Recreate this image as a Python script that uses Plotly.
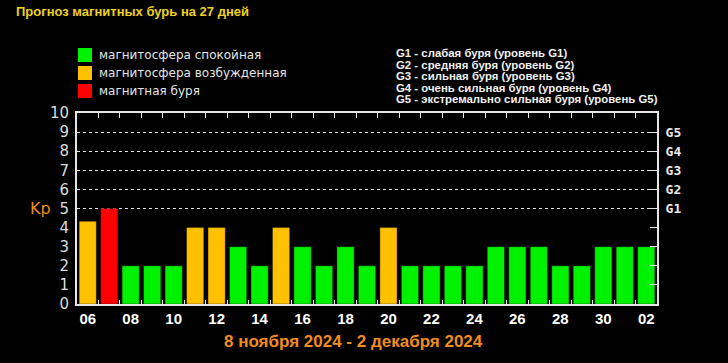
import plotly.graph_objects as go

# ---- data ----
day_labels = ["06", "07", "08", "09", "10", "11", "12", "13", "14", "15", "16", "17", "18",
              "19", "20", "21", "22", "23", "24", "25", "26", "27", "28", "29", "30", "01", "02"]
kp_values = [4.33, 5, 2, 2, 2, 4, 4, 3, 2, 4, 3, 2, 3, 2, 4, 2, 2, 2, 2, 3, 3, 3, 2, 2, 3, 3, 3]
g_levels = ["G1", "G2", "G3", "G4", "G5"]
g_level_kp = [5, 6, 7, 8, 9]
legend_labels = ["магнитосфера спокойная", "магнитосфера возбужденная", "магнитная буря"]
legend_colors = ["#00f200", "#ffc000", "#ff0000"]
g_descriptions = [
    "G1 - слабая буря (уровень G1)",
    "G2 - средняя буря (уровень G2)",
    "G3 - сильная буря (уровень G3)",
    "G4 - очень сильная буря (уровень G4)",
    "G5 - экстремально сильная буря (уровень G5)",
]
title_text = "Прогноз магнитных бурь на 27 дней"
period_text = "8 ноября 2024 - 2 декабря 2024"

# ---- layout geometry ----
W, H = 728, 363
L, R, T, B = 77, 657, 113, 304


def px(x):
    return (x - L) / (R - L)


def py(y):
    return (B - y) / (B - T)


def kp_color(v):
    if v >= 5:
        return legend_colors[2]
    if v >= 4:
        return legend_colors[1]
    return legend_colors[0]


n = len(day_labels)
xs = list(range(n))
colors = [kp_color(v) for v in kp_values]
boundaries = [i + 0.5 for i in range(n - 1)]
frame = "#e6e6e6"

fig = go.Figure()
fig.add_trace(go.Bar(x=xs, y=kp_values, marker=dict(color=colors, line=dict(color="rgba(0,0,0,0.35)", width=1)),
                     showlegend=False, hoverinfo="skip"))
# invisible helper traces to activate overlay axes
fig.add_trace(go.Scatter(x=[None], y=[None], xaxis="x2", yaxis="y", showlegend=False, hoverinfo="skip"))
fig.add_trace(go.Scatter(x=[None], y=[None], xaxis="x3", yaxis="y", showlegend=False, hoverinfo="skip"))
fig.add_trace(go.Scatter(x=[None], y=[None], xaxis="x", yaxis="y2", showlegend=False, hoverinfo="skip"))
fig.add_trace(go.Scatter(x=[None], y=[None], xaxis="x", yaxis="y3", showlegend=False, hoverinfo="skip"))

xr = [-0.5, n - 0.5]
fig.update_layout(
    width=W, height=H,
    margin=dict(l=L, r=W - R, t=T, b=H - B, pad=0),
    paper_bgcolor="black", plot_bgcolor="black",
    bargap=0.2,
    xaxis=dict(range=xr, tickmode="array", tickvals=xs[::2], ticktext=["<b>" + d + "</b>" for d in day_labels[::2]],
               ticks="", showgrid=False, zeroline=False, showline=True, linecolor=frame, linewidth=2,
               tickfont=dict(family="Liberation Sans", size=15, color="white"), ticklabelstandoff=0),
    xaxis2=dict(range=xr, overlaying="x", side="top", anchor="y", tickmode="array", tickvals=boundaries,
                ticks="inside", ticklen=5, tickcolor=frame, tickwidth=1, showticklabels=False,
                showgrid=False, zeroline=False, showline=True, linecolor=frame, linewidth=2),
    xaxis3=dict(range=xr, overlaying="x", side="bottom", anchor="y", tickmode="array", tickvals=boundaries,
                ticks="inside", ticklen=4, tickcolor=frame, tickwidth=1, showticklabels=False,
                showgrid=False, zeroline=False, showline=False),
    yaxis=dict(range=[0, 10], tickmode="array", tickvals=list(range(11)), ticks="", showgrid=False,
               zeroline=False, showline=True, linecolor=frame, linewidth=2,
               tickfont=dict(family="DejaVu Sans", size=15, color="#dcdcdc"), ticklabelstandoff=3),
    yaxis2=dict(range=[0, 10], overlaying="y", side="right", anchor="x", tickmode="array",
                tickvals=g_level_kp, ticktext=["<b>" + g + "</b>" for g in g_levels], ticks="inside", ticklen=7,
                tickcolor=frame, showgrid=True, gridcolor="#e0e0e0", griddash="dot", gridwidth=1, zeroline=False,
                showline=True, linecolor=frame, linewidth=2,
                tickfont=dict(family="DejaVu Sans Mono", size=13, color="#e8e8e8"), ticklabelstandoff=4),
    yaxis3=dict(range=[0, 10], overlaying="y", side="right", anchor="x", tickmode="array",
                tickvals=[1, 2, 3, 4], ticks="inside", ticklen=7, tickcolor=frame, showticklabels=False,
                showgrid=False, zeroline=False, showline=False),
)

annotations = [
    dict(text="<b>" + title_text + "</b>", x=px(14), y=py(12), xref="paper", yref="paper",
         xanchor="left", yanchor="middle", showarrow=False,
         font=dict(family="Liberation Sans", size=13, color="#eed21c")),
    dict(text="Kp", x=px(53), y=5, xref="paper", yref="y", xanchor="right", yanchor="middle",
         showarrow=False, font=dict(family="DejaVu Sans", size=16, color="#f08c1e")),
    dict(text="<b>" + period_text + "</b>", x=px(353), y=py(341), xref="paper", yref="paper",
         xanchor="center", yanchor="middle", showarrow=False,
         font=dict(family="Liberation Sans", size=17, color="#f08c1e")),
]
shapes = []
for i, (lab, col) in enumerate(zip(legend_labels, legend_colors)):
    yc = 55 + 18 * i
    shapes.append(dict(type="rect", xref="paper", yref="paper", x0=px(78), x1=px(92),
                       y0=py(yc - 7), y1=py(yc + 7), fillcolor=col, line=dict(width=0)))
    annotations.append(dict(text=lab, x=px(97), y=py(yc), xref="paper", yref="paper",
                            xanchor="left", yanchor="middle", showarrow=False,
                            font=dict(family="DejaVu Sans", size=12, color="#e4e4e4")))
for i, t in enumerate(g_descriptions):
    annotations.append(dict(text="<b>" + t + "</b>", x=px(394), y=py(53 + 11.6 * i), xref="paper",
                            yref="paper", xanchor="left", yanchor="middle", showarrow=False,
                            font=dict(family="Liberation Sans", size=11.4, color="#f0f0f0")))

fig.update_layout(annotations=annotations, shapes=shapes)
fig.write_html("out.html", config={"displayModeBar": False},
               post_script="document.body.style.margin='0';document.body.style.background='black';")
